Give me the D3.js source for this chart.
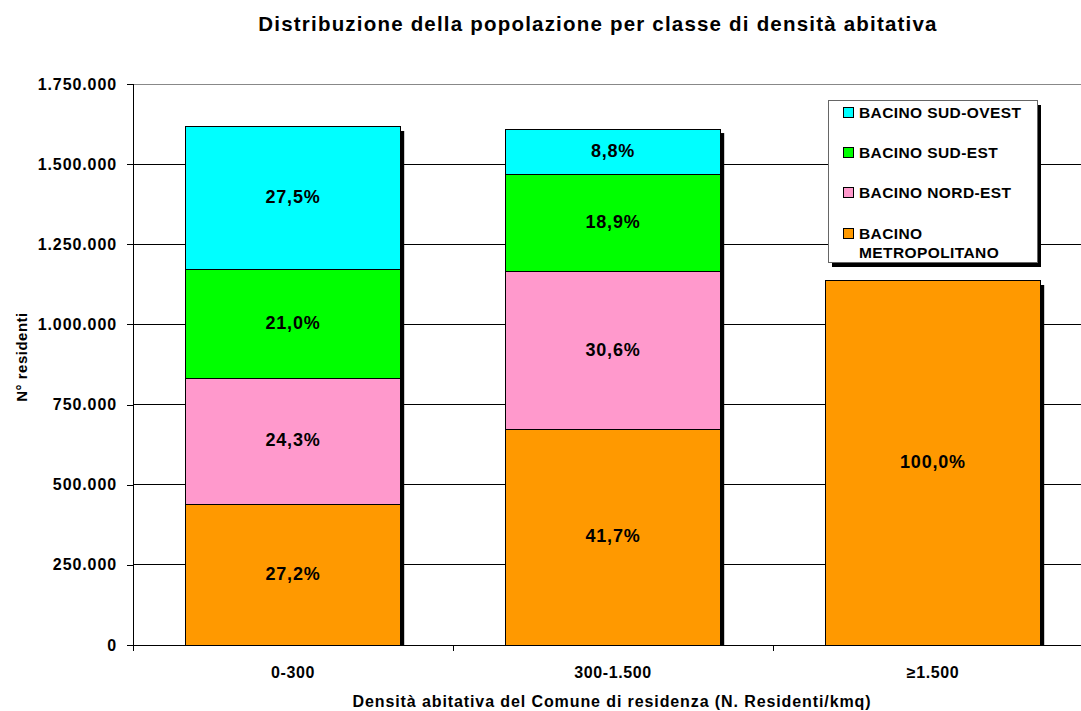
<!DOCTYPE html>
<html>
<head>
<meta charset="utf-8">
<script src="https://cdn.jsdelivr.net/npm/d3@7"></script>
<style>
  body { margin: 0; background: #fff; }
  svg text { font-family: Arial, "Liberation Sans", sans-serif; font-weight: bold; }
</style>
</head>
<body>
<div id="chart"></div>
<script>
// categories (density classes) and stacked series, bottom to top
var categories = ["0-300", "300-1.500", "\u22651.500"];
var seriesNames = ["BACINO METROPOLITANO", "BACINO NORD-EST", "BACINO SUD-EST", "BACINO SUD-OVEST"];
var metropolitano = [439500, 671200, 1135500];
var nordEst = [392700, 492500, 0];
var sudEst = [339300, 304200, 0];
var sudOvest = [444400, 141600, 0];
var colors = ["#FF9900", "#FF99CC", "#00FF00", "#00FFFF"];
var yTicks = [0, 250000, 500000, 750000, 1000000, 1250000, 1500000, 1750000];

var width = 1081, height = 711;
var margin = {top: 84, right: -12, bottom: 66, left: 133};
var plotW = width - margin.left - margin.right;
var plotH = height - margin.top - margin.bottom;

var svg = d3.select("#chart").append("svg")
    .attr("width", width)
    .attr("height", height);

// rows for the stack
var rows = categories.map(function(c, i){
    return {cat: c, s0: metropolitano[i], s1: nordEst[i], s2: sudEst[i], s3: sudOvest[i]};
});
var stacked = d3.stack().keys(["s0", "s1", "s2", "s3"])(rows);

var x = d3.scaleBand().domain(categories).range([0, plotW]).paddingInner(0.33).paddingOuter(0.165);
var y = d3.scaleLinear().domain([0, 1750000]).range([plotH, 0]);

var fmt = d3.formatLocale({decimal: ",", thousands: ".", grouping: [3], currency: ["", "\u20ac"]});
var numFmt = fmt.format(",");
var pctFmt = fmt.format(".1f");

// title
svg.append("text")
    .attr("x", 598).attr("y", 31)
    .attr("text-anchor", "middle")
    .style("font-size", "20.5px")
    .style("letter-spacing", "1.2px")
    .text("Distribuzione della popolazione per classe di densità abitativa");

var g = svg.append("g").attr("transform", "translate(" + margin.left + "," + margin.top + ")");

// gridlines
g.selectAll(".grid").data(yTicks.slice(1)).enter().append("line")
    .attr("x1", 0).attr("x2", plotW)
    .attr("y1", function(d){ return y(d); }).attr("y2", function(d){ return y(d); })
    .attr("stroke", function(d){ return d == 1750000 ? "#888" : "#000"; })
    .attr("stroke-width", 1)
    .attr("shape-rendering", "crispEdges");

// y axis
var yAxis = g.append("g")
    .call(d3.axisLeft(y).tickValues(yTicks).tickSize(6).tickPadding(10).tickFormat(numFmt));
yAxis.selectAll("text").style("font-size", "16px").style("letter-spacing", "0.9px").attr("fill", "#000");
yAxis.selectAll("line, path").attr("stroke", "#000").attr("shape-rendering", "crispEdges");
yAxis.select(".domain").attr("d", "M0," + (plotH + 6) + "V0");

// x axis
var xAxis = g.append("g")
    .attr("transform", "translate(0," + plotH + ")")
    .call(d3.axisBottom(x).tickSize(0).tickPadding(22));
xAxis.select(".domain").attr("stroke", "#000").attr("shape-rendering", "crispEdges");
xAxis.selectAll("text").style("font-size", "16px").style("letter-spacing", "0.6px").attr("fill", "#000");
// ticks between categories
var step = x.step();
g.selectAll(".xtick").data(d3.range(1, categories.length + 1)).enter().append("line")
    .attr("x1", function(i){ return i * step; }).attr("x2", function(i){ return i * step; })
    .attr("y1", plotH).attr("y2", plotH + 6)
    .attr("stroke", "#000").attr("shape-rendering", "crispEdges");

// bar shadows
var totals = rows.map(function(r){ return r.s0 + r.s1 + r.s2 + r.s3; });
g.selectAll(".shadow").data(rows).enter().append("rect")
    .attr("x", function(d){ return x(d.cat) + 4; })
    .attr("y", function(d, i){ return y(totals[i]) + 4; })
    .attr("width", x.bandwidth())
    .attr("height", function(d, i){ return plotH - y(totals[i]) - 4; })
    .attr("fill", "#000");

// stacked bars
var layers = g.selectAll(".layer").data(stacked).enter().append("g")
    .attr("fill", function(d, i){ return colors[i]; });
layers.selectAll("rect").data(function(d){ return d.filter(function(p){ return p[1] > p[0]; }); })
    .enter().append("rect")
    .attr("x", function(d){ return x(d.data.cat); })
    .attr("y", function(d){ return y(d[1]); })
    .attr("width", x.bandwidth())
    .attr("height", function(d){ return y(d[0]) - y(d[1]); })
    .attr("stroke", "#000").attr("stroke-width", 1)
    .attr("shape-rendering", "crispEdges");

// percentage labels
layers.selectAll("text").data(function(d){ return d.filter(function(p){ return p[1] > p[0]; }); })
    .enter().append("text")
    .attr("x", function(d){ return x(d.data.cat) + x.bandwidth() / 2; })
    .attr("y", function(d){ return (y(d[0]) + y(d[1])) / 2 + 5; })
    .attr("text-anchor", "middle")
    .attr("fill", "#000")
    .style("font-size", "18px")
    .style("letter-spacing", "0.8px")
    .text(function(d){
        var t = d.data.s0 + d.data.s1 + d.data.s2 + d.data.s3;
        return pctFmt((d[1] - d[0]) / t * 100) + "%";
    });

// axis titles
svg.append("text")
    .attr("transform", "translate(27,357) rotate(-90)")
    .attr("text-anchor", "middle")
    .style("font-size", "15px")
    .style("letter-spacing", "0.5px")
    .text("N° residenti");
svg.append("text")
    .attr("x", 612).attr("y", 707)
    .attr("text-anchor", "middle")
    .style("font-size", "16px")
    .style("letter-spacing", "0.9px")
    .text("Densità abitativa del Comune di residenza (N. Residenti/kmq)");

// legend
var lg = svg.append("g").attr("transform", "translate(828,100)");
lg.append("rect").attr("x", 4).attr("y", 5).attr("width", 209).attr("height", 162).attr("fill", "#000");
lg.append("rect").attr("x", 0).attr("y", 0).attr("width", 209).attr("height", 162)
    .attr("fill", "#fff").attr("stroke", "#666").attr("shape-rendering", "crispEdges");
var legendOrder = [3, 2, 1, 0];
var legendY = [18, 58, 98, 139];
legendOrder.forEach(function(si, k){
    var item = lg.append("g").attr("transform", "translate(0," + legendY[k] + ")");
    item.append("rect").attr("x", 15).attr("y", -11).attr("width", 10).attr("height", 10)
        .attr("fill", colors[si]).attr("stroke", "#000").attr("shape-rendering", "crispEdges");
    var words = si == 0 ? ["BACINO", "METROPOLITANO"] : [seriesNames[si]];
    words.forEach(function(w, j){
        item.append("text").attr("x", 31).attr("y", j * 19)
            .style("font-size", "15.5px").style("letter-spacing", "0.4px").text(w);
    });
});
</script>
</body>
</html>
